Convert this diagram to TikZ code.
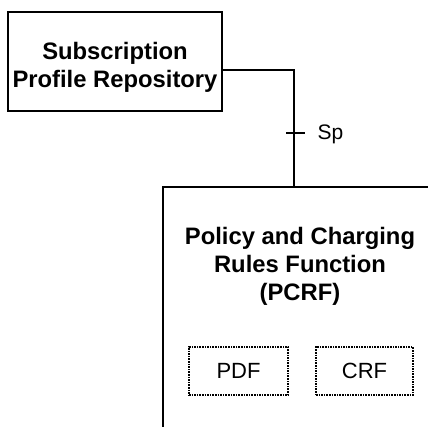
\documentclass[tikz,border=0pt]{standalone}
\usepackage{fontspec}
\setmainfont{Liberation Sans}
\begin{document}
\begin{tikzpicture}[x=1pt,y=-1pt,line width=1.4pt,
    box/.style={draw,rectangle,inner sep=0pt},
    subbox/.style={draw,rectangle,inner sep=0pt,line width=1.6pt,dash pattern=on 1.6pt off 1pt,
      minimum height=48pt,font=\fontsize{22}{26}\selectfont},
    title/.style={align=center,font=\fontsize{23.8}{28}\selectfont\bfseries}]
      \useasboundingbox (0,0) rectangle (428,426);
      \clip (0,0) rectangle (428,426);
      % repository
      \node[box,minimum width=214pt,minimum height=99pt](spr) at (115,61.5) {};
      \node[title](sprtxt) at (115,67) {Subscription\\Profile Repository};
      % PCRF, cut off at the right and bottom
      \node[box,minimum width=277pt,minimum height=253pt](pcrf) at (301.5,313.5) {};
      \node[title](pcrftxt) at (300,266) {Policy and Charging\\Rules Function\\(PCRF)};
      \node[subbox,minimum width=99pt](pdf) at (238.5,371) {PDF};
      \node[subbox,minimum width=97pt](crf) at (364.5,371) {CRF};
      % reference point Sp
      \coordinate (sp) at (294,133);
      \draw ([yshift=-8.5pt]spr.east) -| (sp) -- (sp |- pcrf.north);
      \draw ([xshift=-8pt]sp) -- ([xshift=11pt]sp);
      \node[anchor=base west,inner sep=0pt,font=\fontsize{21}{25}\selectfont](splabel) at (317,139) {Sp};
\end{tikzpicture}
\end{document}
